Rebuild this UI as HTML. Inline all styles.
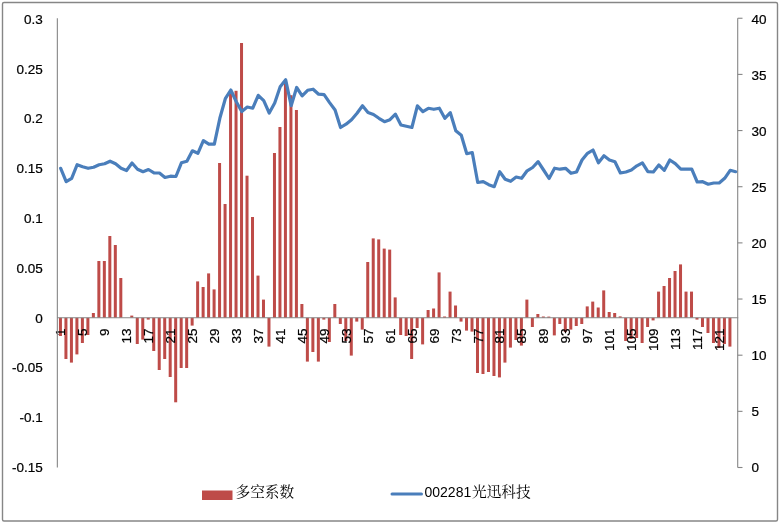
<!DOCTYPE html>
<html lang="zh"><head><meta charset="utf-8"><title>多空系数 002281光迅科技</title>
<style>html,body{margin:0;padding:0;background:#fff}svg{display:block}text{font-family:"Liberation Sans","Noto Sans CJK SC",sans-serif;fill:#000}.a{font-size:12.4px;stroke:#000;stroke-width:0.2px}.lg{font-size:14.67px;font-family:"Liberation Sans","Noto Serif CJK SC",serif}.d{font-size:14px}</style></head><body>
<svg width="780" height="524" viewBox="0 0 780 524">
<rect width="780" height="524" fill="#fff"/>
<rect x="2.5" y="2.5" width="775" height="518.5" rx="1.5" ry="1.5" fill="#fff" stroke="#868686" stroke-width="1.4"/>
<g fill="#BE4B48">
<rect x="58.94" y="317.75" width="3.0" height="18.25"/>
<rect x="64.43" y="317.75" width="3.0" height="41.25"/>
<rect x="69.92" y="317.75" width="3.0" height="44.85"/>
<rect x="75.41" y="317.75" width="3.0" height="36.65"/>
<rect x="80.89" y="317.75" width="3.0" height="25.25"/>
<rect x="86.38" y="317.75" width="3.0" height="17.25"/>
<rect x="91.87" y="313.00" width="3.0" height="4.75"/>
<rect x="97.36" y="261.00" width="3.0" height="56.75"/>
<rect x="102.84" y="261.00" width="3.0" height="56.75"/>
<rect x="108.33" y="236.00" width="3.0" height="81.75"/>
<rect x="113.82" y="245.00" width="3.0" height="72.75"/>
<rect x="119.31" y="278.00" width="3.0" height="39.75"/>
<rect x="130.28" y="315.60" width="3.0" height="2.15"/>
<rect x="135.77" y="317.75" width="3.0" height="26.25"/>
<rect x="141.26" y="317.75" width="3.0" height="21.85"/>
<rect x="146.74" y="317.75" width="3.0" height="1.85"/>
<rect x="152.23" y="317.75" width="3.0" height="33.25"/>
<rect x="157.72" y="317.75" width="3.0" height="52.25"/>
<rect x="163.21" y="317.75" width="3.0" height="41.25"/>
<rect x="168.69" y="317.75" width="3.0" height="59.25"/>
<rect x="174.18" y="317.75" width="3.0" height="84.55"/>
<rect x="179.67" y="317.75" width="3.0" height="50.25"/>
<rect x="185.16" y="317.75" width="3.0" height="50.25"/>
<rect x="190.64" y="317.75" width="3.0" height="7.85"/>
<rect x="196.13" y="281.40" width="3.0" height="36.35"/>
<rect x="201.62" y="287.00" width="3.0" height="30.75"/>
<rect x="207.11" y="273.40" width="3.0" height="44.35"/>
<rect x="212.59" y="289.40" width="3.0" height="28.35"/>
<rect x="218.08" y="163.00" width="3.0" height="154.75"/>
<rect x="223.57" y="204.00" width="3.0" height="113.75"/>
<rect x="229.06" y="92.50" width="3.0" height="225.25"/>
<rect x="234.54" y="90.80" width="3.0" height="226.95"/>
<rect x="240.03" y="43.00" width="3.0" height="274.75"/>
<rect x="245.52" y="175.70" width="3.0" height="142.05"/>
<rect x="251.01" y="217.00" width="3.0" height="100.75"/>
<rect x="256.49" y="275.60" width="3.0" height="42.15"/>
<rect x="261.98" y="299.60" width="3.0" height="18.15"/>
<rect x="267.47" y="317.75" width="3.0" height="28.85"/>
<rect x="272.96" y="153.00" width="3.0" height="164.75"/>
<rect x="278.44" y="127.00" width="3.0" height="190.75"/>
<rect x="283.93" y="83.00" width="3.0" height="234.75"/>
<rect x="289.42" y="95.20" width="3.0" height="222.55"/>
<rect x="294.91" y="110.00" width="3.0" height="207.75"/>
<rect x="300.39" y="304.00" width="3.0" height="13.75"/>
<rect x="305.88" y="317.75" width="3.0" height="43.85"/>
<rect x="311.37" y="317.75" width="3.0" height="34.25"/>
<rect x="316.86" y="317.75" width="3.0" height="43.85"/>
<rect x="322.34" y="317.75" width="3.0" height="1.85"/>
<rect x="327.83" y="317.75" width="3.0" height="24.25"/>
<rect x="333.32" y="304.00" width="3.0" height="13.75"/>
<rect x="338.81" y="317.75" width="3.0" height="6.25"/>
<rect x="344.29" y="317.75" width="3.0" height="23.25"/>
<rect x="349.78" y="317.75" width="3.0" height="37.85"/>
<rect x="355.27" y="317.75" width="3.0" height="3.85"/>
<rect x="360.76" y="317.75" width="3.0" height="11.85"/>
<rect x="366.24" y="262.00" width="3.0" height="55.75"/>
<rect x="371.73" y="238.40" width="3.0" height="79.35"/>
<rect x="377.22" y="239.40" width="3.0" height="78.35"/>
<rect x="382.71" y="248.60" width="3.0" height="69.15"/>
<rect x="388.19" y="249.60" width="3.0" height="68.15"/>
<rect x="393.68" y="297.40" width="3.0" height="20.35"/>
<rect x="399.17" y="317.75" width="3.0" height="17.25"/>
<rect x="404.66" y="317.75" width="3.0" height="18.25"/>
<rect x="410.14" y="317.75" width="3.0" height="41.25"/>
<rect x="415.63" y="317.75" width="3.0" height="10.25"/>
<rect x="421.12" y="317.75" width="3.0" height="26.65"/>
<rect x="426.61" y="310.00" width="3.0" height="7.75"/>
<rect x="432.09" y="308.50" width="3.0" height="9.25"/>
<rect x="437.58" y="272.40" width="3.0" height="45.35"/>
<rect x="443.07" y="316.50" width="3.0" height="1.25"/>
<rect x="448.56" y="291.60" width="3.0" height="26.15"/>
<rect x="454.04" y="305.50" width="3.0" height="12.25"/>
<rect x="459.53" y="317.75" width="3.0" height="3.85"/>
<rect x="465.02" y="317.75" width="3.0" height="12.85"/>
<rect x="470.51" y="317.75" width="3.0" height="13.85"/>
<rect x="475.99" y="317.75" width="3.0" height="55.25"/>
<rect x="481.48" y="317.75" width="3.0" height="56.25"/>
<rect x="486.97" y="317.75" width="3.0" height="54.25"/>
<rect x="492.46" y="317.75" width="3.0" height="58.25"/>
<rect x="497.94" y="317.75" width="3.0" height="59.65"/>
<rect x="503.43" y="317.75" width="3.0" height="44.85"/>
<rect x="508.92" y="317.75" width="3.0" height="29.85"/>
<rect x="514.41" y="317.75" width="3.0" height="22.25"/>
<rect x="519.89" y="317.75" width="3.0" height="27.85"/>
<rect x="525.38" y="299.60" width="3.0" height="18.15"/>
<rect x="530.87" y="317.75" width="3.0" height="9.25"/>
<rect x="536.36" y="314.00" width="3.0" height="3.75"/>
<rect x="541.84" y="316.50" width="3.0" height="1.25"/>
<rect x="547.33" y="316.60" width="3.0" height="1.15"/>
<rect x="552.82" y="317.75" width="3.0" height="17.65"/>
<rect x="558.31" y="317.75" width="3.0" height="6.25"/>
<rect x="563.79" y="317.75" width="3.0" height="14.25"/>
<rect x="569.28" y="317.75" width="3.0" height="11.85"/>
<rect x="574.77" y="317.75" width="3.0" height="8.25"/>
<rect x="580.26" y="317.75" width="3.0" height="6.25"/>
<rect x="585.74" y="306.40" width="3.0" height="11.35"/>
<rect x="591.23" y="301.60" width="3.0" height="16.15"/>
<rect x="596.72" y="307.50" width="3.0" height="10.25"/>
<rect x="602.21" y="290.40" width="3.0" height="27.35"/>
<rect x="607.69" y="312.00" width="3.0" height="5.75"/>
<rect x="613.18" y="313.00" width="3.0" height="4.75"/>
<rect x="618.67" y="316.40" width="3.0" height="1.35"/>
<rect x="624.16" y="317.75" width="3.0" height="23.25"/>
<rect x="629.64" y="317.75" width="3.0" height="21.25"/>
<rect x="635.13" y="317.75" width="3.0" height="20.25"/>
<rect x="640.62" y="317.75" width="3.0" height="25.25"/>
<rect x="646.11" y="317.75" width="3.0" height="9.25"/>
<rect x="651.59" y="317.75" width="3.0" height="2.65"/>
<rect x="657.08" y="291.60" width="3.0" height="26.15"/>
<rect x="662.57" y="286.00" width="3.0" height="31.75"/>
<rect x="668.06" y="278.00" width="3.0" height="39.75"/>
<rect x="673.54" y="271.00" width="3.0" height="46.75"/>
<rect x="679.03" y="264.40" width="3.0" height="53.35"/>
<rect x="684.52" y="291.60" width="3.0" height="26.15"/>
<rect x="690.01" y="291.60" width="3.0" height="26.15"/>
<rect x="695.49" y="317.75" width="3.0" height="1.85"/>
<rect x="700.98" y="317.75" width="3.0" height="9.25"/>
<rect x="706.47" y="317.75" width="3.0" height="15.25"/>
<rect x="711.96" y="317.75" width="3.0" height="25.25"/>
<rect x="717.44" y="317.75" width="3.0" height="30.25"/>
<rect x="722.93" y="317.75" width="3.0" height="26.25"/>
<rect x="728.42" y="317.75" width="3.0" height="28.85"/>
</g>
<g class="a" text-anchor="end">
<text transform="translate(65.49,328.4) rotate(-90) scale(1.09,1)">1</text>
<text transform="translate(87.44,328.4) rotate(-90) scale(1.09,1)">5</text>
<text transform="translate(109.39,328.4) rotate(-90) scale(1.09,1)">9</text>
<text transform="translate(131.34,328.4) rotate(-90) scale(1.09,1)">13</text>
<text transform="translate(153.29,328.4) rotate(-90) scale(1.09,1)">17</text>
<text transform="translate(175.24,328.4) rotate(-90) scale(1.09,1)">21</text>
<text transform="translate(197.19,328.4) rotate(-90) scale(1.09,1)">25</text>
<text transform="translate(219.14,328.4) rotate(-90) scale(1.09,1)">29</text>
<text transform="translate(241.09,328.4) rotate(-90) scale(1.09,1)">33</text>
<text transform="translate(263.04,328.4) rotate(-90) scale(1.09,1)">37</text>
<text transform="translate(284.99,328.4) rotate(-90) scale(1.09,1)">41</text>
<text transform="translate(306.94,328.4) rotate(-90) scale(1.09,1)">45</text>
<text transform="translate(328.89,328.4) rotate(-90) scale(1.09,1)">49</text>
<text transform="translate(350.84,328.4) rotate(-90) scale(1.09,1)">53</text>
<text transform="translate(372.79,328.4) rotate(-90) scale(1.09,1)">57</text>
<text transform="translate(394.74,328.4) rotate(-90) scale(1.09,1)">61</text>
<text transform="translate(416.69,328.4) rotate(-90) scale(1.09,1)">65</text>
<text transform="translate(438.64,328.4) rotate(-90) scale(1.09,1)">69</text>
<text transform="translate(460.59,328.4) rotate(-90) scale(1.09,1)">73</text>
<text transform="translate(482.54,328.4) rotate(-90) scale(1.09,1)">77</text>
<text transform="translate(504.49,328.4) rotate(-90) scale(1.09,1)">81</text>
<text transform="translate(526.44,328.4) rotate(-90) scale(1.09,1)">85</text>
<text transform="translate(548.39,328.4) rotate(-90) scale(1.09,1)">89</text>
<text transform="translate(570.34,328.4) rotate(-90) scale(1.09,1)">93</text>
<text transform="translate(592.29,328.4) rotate(-90) scale(1.09,1)">97</text>
<text transform="translate(614.24,328.4) rotate(-90) scale(1.09,1)">101</text>
<text transform="translate(636.19,328.4) rotate(-90) scale(1.09,1)">105</text>
<text transform="translate(658.14,328.4) rotate(-90) scale(1.09,1)">109</text>
<text transform="translate(680.09,328.4) rotate(-90) scale(1.09,1)">113</text>
<text transform="translate(702.04,328.4) rotate(-90) scale(1.09,1)">117</text>
<text transform="translate(723.99,328.4) rotate(-90) scale(1.09,1)">121</text>
</g>
<g stroke="#868686" stroke-width="1.1" fill="none">
<line x1="57.35" y1="18.25" x2="57.35" y2="467.5"/>
<line x1="737.7" y1="18.25" x2="737.7" y2="467.5"/>
<line x1="57" y1="317.75" x2="738.2" y2="317.75"/>
<line x1="737.7" y1="18.25" x2="742.5" y2="18.25"/>
<line x1="737.7" y1="74.41" x2="742.5" y2="74.41"/>
<line x1="737.7" y1="130.56" x2="742.5" y2="130.56"/>
<line x1="737.7" y1="186.72" x2="742.5" y2="186.72"/>
<line x1="737.7" y1="242.88" x2="742.5" y2="242.88"/>
<line x1="737.7" y1="299.03" x2="742.5" y2="299.03"/>
<line x1="737.7" y1="355.19" x2="742.5" y2="355.19"/>
<line x1="737.7" y1="411.34" x2="742.5" y2="411.34"/>
<line x1="737.7" y1="467.50" x2="742.5" y2="467.50"/>
</g>
<g class="a" text-anchor="end">
<text transform="translate(42.8,23.84) scale(1.09,1)">0.3</text>
<text transform="translate(42.8,73.62) scale(1.09,1)">0.25</text>
<text transform="translate(42.8,123.40) scale(1.09,1)">0.2</text>
<text transform="translate(42.8,173.18) scale(1.09,1)">0.15</text>
<text transform="translate(42.8,222.96) scale(1.09,1)">0.1</text>
<text transform="translate(42.8,272.74) scale(1.09,1)">0.05</text>
<text transform="translate(42.8,322.52) scale(1.09,1)">0</text>
<text transform="translate(42.8,372.30) scale(1.09,1)">-0.05</text>
<text transform="translate(42.8,422.08) scale(1.09,1)">-0.1</text>
<text transform="translate(42.8,471.86) scale(1.09,1)">-0.15</text>
</g>
<g class="a">
<text transform="translate(751.6,23.74) scale(1.09,1)">40</text>
<text transform="translate(751.6,79.81) scale(1.09,1)">35</text>
<text transform="translate(751.6,135.88) scale(1.09,1)">30</text>
<text transform="translate(751.6,191.95) scale(1.09,1)">25</text>
<text transform="translate(751.6,248.02) scale(1.09,1)">20</text>
<text transform="translate(751.6,304.09) scale(1.09,1)">15</text>
<text transform="translate(751.6,360.16) scale(1.09,1)">10</text>
<text transform="translate(751.6,416.23) scale(1.09,1)">5</text>
<text transform="translate(751.6,472.30) scale(1.09,1)">0</text>
</g>
<polyline points="60.69,168.3 66.18,181.7 71.67,178.3 77.16,164.7 82.64,166.7 88.13,168.3 93.62,167.2 99.11,164.7 104.59,163.7 110.08,161.2 115.57,163.7 121.06,168.3 126.54,170.5 132.03,163 137.52,169.2 143.01,171.7 148.49,169.5 153.98,172.8 159.47,173 164.96,177.5 170.44,176.2 175.93,176.5 181.42,162.8 186.91,161.3 192.39,150.8 197.88,153.3 203.37,140.6 208.86,144.2 214.34,144.2 219.83,118.3 225.32,98.7 230.81,90 236.29,101.7 241.78,111.5 247.27,107 252.76,108.2 258.24,95.3 263.73,100.6 269.22,113 274.71,103 280.19,86.8 285.68,79.8 291.17,105.7 296.66,87.5 302.14,95.8 307.63,90.3 313.12,89.2 318.61,94.2 324.09,94.6 329.58,102.6 335.07,110 340.56,127.5 346.04,124.2 351.53,119.7 357.02,113.3 362.51,105.8 367.99,112.5 373.48,114.5 378.97,118.3 384.46,121.7 389.94,119.7 395.43,114.2 400.92,125 406.41,126.3 411.89,127.5 417.38,105.8 422.87,111.7 428.36,108.3 433.84,109.3 439.33,108.2 444.82,118.3 450.31,112.7 455.79,130.8 461.28,135.3 466.77,153.7 472.26,152.5 477.74,182.5 483.23,181.7 488.72,184.7 494.21,186.7 499.69,171.7 505.18,179.2 510.67,181.3 516.16,177 521.64,178.3 527.13,170.8 532.62,167.5 538.11,161.7 543.59,170 549.08,178.5 554.57,168.2 560.06,169.2 565.54,168.3 571.03,173.3 576.52,172 582.01,160 587.49,153.3 592.98,150 598.47,162.8 603.96,155.8 609.44,160 614.93,161.7 620.42,173 625.91,172 631.39,170 636.88,165.8 642.37,162.8 647.86,171.7 653.34,172 658.83,165 664.32,170.3 669.81,160 675.29,163.7 680.78,169.2 686.27,169.2 691.76,169.2 697.24,182 702.73,181.7 708.22,184.2 713.71,183 719.19,183 724.68,178.3 730.17,170.3 735.66,171.7" fill="none" stroke="#4A7EBB" stroke-width="3.2" stroke-linejoin="round" stroke-linecap="round"/>
<rect x="202" y="490.5" width="30.5" height="9.5" fill="#BE4B48"/>
<text class="lg" x="235.5" y="497">多空系数</text>
<line x1="392" y1="494" x2="421.5" y2="494" stroke="#4A7EBB" stroke-width="3" stroke-linecap="round"/>
<text class="lg" x="424.5" y="497"><tspan class="d">002281</tspan><tspan dx="0.8">光迅科技</tspan></text>
</svg></body></html>
